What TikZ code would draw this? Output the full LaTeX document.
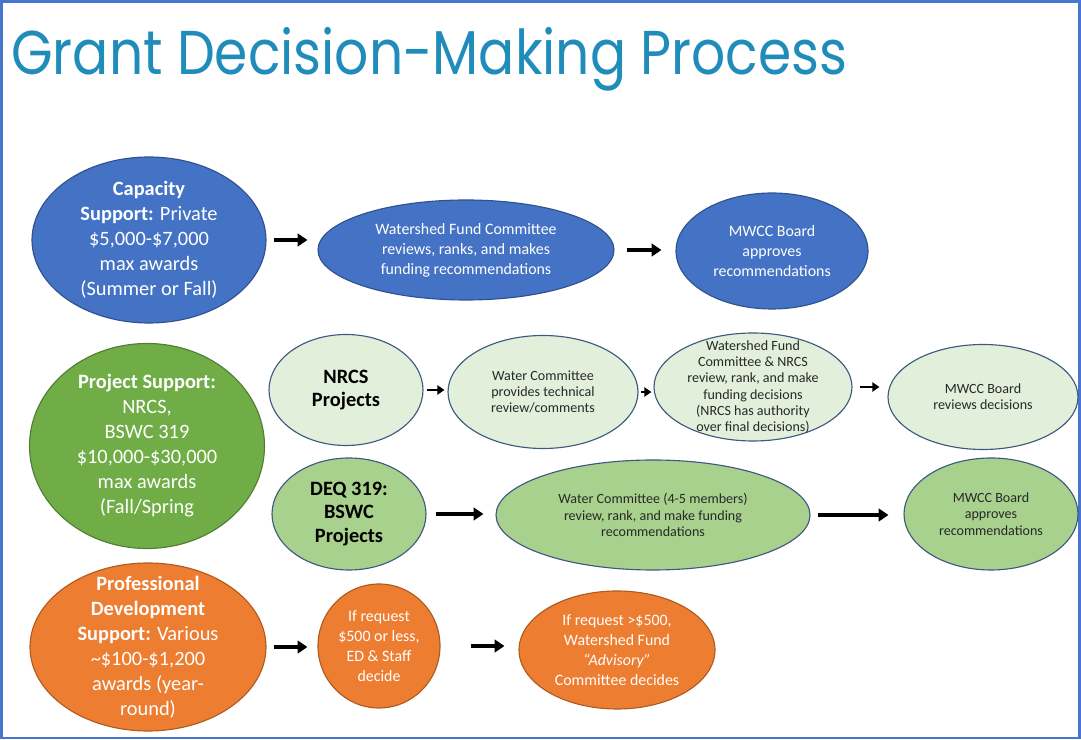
\documentclass[tikz,border=0pt]{standalone}
\usepackage{fontspec}
\setmainfont{Carlito}
\newfontfamily\titlefont{Poppins}
\usepackage{tikz}
\usetikzlibrary{shapes.geometric, arrows.meta, positioning}

\definecolor{titleblue}{RGB}{32,140,186}
\definecolor{frameblue}{RGB}{72,118,204}
\definecolor{capfill}{RGB}{68,114,196}
\definecolor{capline}{RGB}{47,82,143}
\definecolor{prjfill}{RGB}{112,173,71}
\definecolor{prjline}{RGB}{80,126,50}
\definecolor{palefill}{RGB}{226,239,218}
\definecolor{midfill}{RGB}{169,209,142}
\definecolor{slateline}{RGB}{62,88,128}
\definecolor{devfill}{RGB}{237,125,49}
\definecolor{devline}{RGB}{174,90,33}
\definecolor{darktext}{RGB}{40,40,40}

\begin{document}
\begin{tikzpicture}[x=0.025cm, y=-0.025cm,
  ell/.style 2 args={ellipse, minimum width=#1*0.025cm, minimum height=#2*0.025cm,
    inner sep=-40pt, align=center, line width=0.8pt},
  bluebox/.style={fill=capfill, draw=capline, text=white},
  greenbox/.style={fill=prjfill, draw=prjline, text=white},
  palebox/.style={fill=palefill, draw=slateline, text=darktext},
  midbox/.style={fill=midfill, draw=slateline, text=darktext},
  orangebox/.style={fill=devfill, draw=devline, text=white},
  bigtxt/.style={font=\fontsize{14.5}{17.8}\selectfont},
  boldtxt/.style={font=\fontsize{14.5}{16.4}\selectfont\bfseries},
  midtxt/.style={font=\fontsize{11.3}{14.2}\selectfont},
  smalltxt/.style={font=\fontsize{10}{11.6}\selectfont},
  arr/.style={line width=2.2pt, -{Triangle[length=7pt, width=9pt]}},
  smallarr/.style={line width=1.5pt, -{Triangle[length=5pt, width=6.5pt]}}]

\useasboundingbox (0,0) rectangle (1081,740);
\draw[frameblue, line width=1.5pt] (1.5,1.5) rectangle (1079.5,738);

\node[anchor=base west, inner sep=0pt, text=titleblue, font=\titlefont\fontsize{44}{50}\selectfont] (title) at (11,75)
  {\scalebox{0.865}[1]{Grant Decision-Making Process}};

%// capacity row
\node[ell={234}{166}, bluebox, bigtxt] (cap) at (149,240)
  {\textbf{Capacity}\\\textbf{Support:} Private\\\$5,000-\$7,000\\max awards\\(Summer or Fall)};
\node[ell={296}{100}, bluebox, midtxt] (wfc) at (466,250)
  {Watershed Fund Committee\\reviews, ranks, and makes\\funding recommendations};
\node[ell={192}{116}, bluebox, midtxt] (mwa) at (772,251)
  {MWCC Board\\approves\\recommendations};

%// project row
\node[ell={235}{205}, greenbox, bigtxt] (prj) at (147,446)
  {\textbf{Project Support:}\\NRCS,\\BSWC 319\\\$10,000-\$30,000\\max awards\\(Fall/Spring};
\node[ell={154}{111}, palebox, boldtxt, text=black] (nrcs) at (346,390)
  {NRCS\\Projects};
\node[ell={190}{113}, palebox, smalltxt] (water) at (543,392)
  {Water Committee\\provides technical\\review/comments};
\node[ell={198}{108}, palebox, smalltxt] (wfcn) at (753,387)
  {Watershed Fund\\Committee \& NRCS\\review, rank, and make\\funding decisions\\(NRCS has authority\\over final decisions)};
\node[ell={190}{105}, palebox, smalltxt] (mwr) at (983,397)
  {MWCC Board\\reviews decisions};

\node[ell={154}{112}, midbox, boldtxt, text=black] (deq) at (349,514)
  {DEQ 319:\\BSWC\\Projects};
\node[ell={314}{110}, midbox, smalltxt] (wc) at (653,515)
  {Water Committee (4-5 members)\\review, rank, and make funding\\recommendations};
\node[ell={174}{112}, midbox, smalltxt] (mwa2) at (991,514)
  {MWCC Board\\approves\\recommendations};

%// development row
\node[ell={236}{168}, orangebox, bigtxt] (dev) at (148,647)
  {\textbf{Professional}\\\textbf{Development}\\\textbf{Support:} Various\\\textasciitilde\$100-\$1,200\\awards (year-\\round)};
\node[ell={122}{124}, orangebox, midtxt] (req) at (379,646)
  {If request\\\$500 or less,\\ED \& Staff\\decide};
\node[ell={196}{118}, orangebox, midtxt] (reqb) at (617,650)
  {If request >\$500,\\Watershed Fund\\\textit{“Advisory”}\\Committee decides};

\foreach \a/\b/\s/\e in {cap/wfc/7/10, wfc/mwa/12/14, deq/wc/9/12, wc/mwa2/7/15, dev/req/7/10, req/reqb/30/14}
  \draw[arr, shorten <=\s*0.025cm, shorten >=\e*0.025cm] (\a.east) -- (\a.east -| \b.west);

\foreach \a/\b/\s/\e in {nrcs/water/3/3, water/wfcn/2/2, wfcn/mwr/7/8}
  \draw[smallarr, shorten <=\s*0.025cm, shorten >=\e*0.025cm] (\a.east) -- (\a.east -| \b.west);
\end{tikzpicture}
\end{document}
